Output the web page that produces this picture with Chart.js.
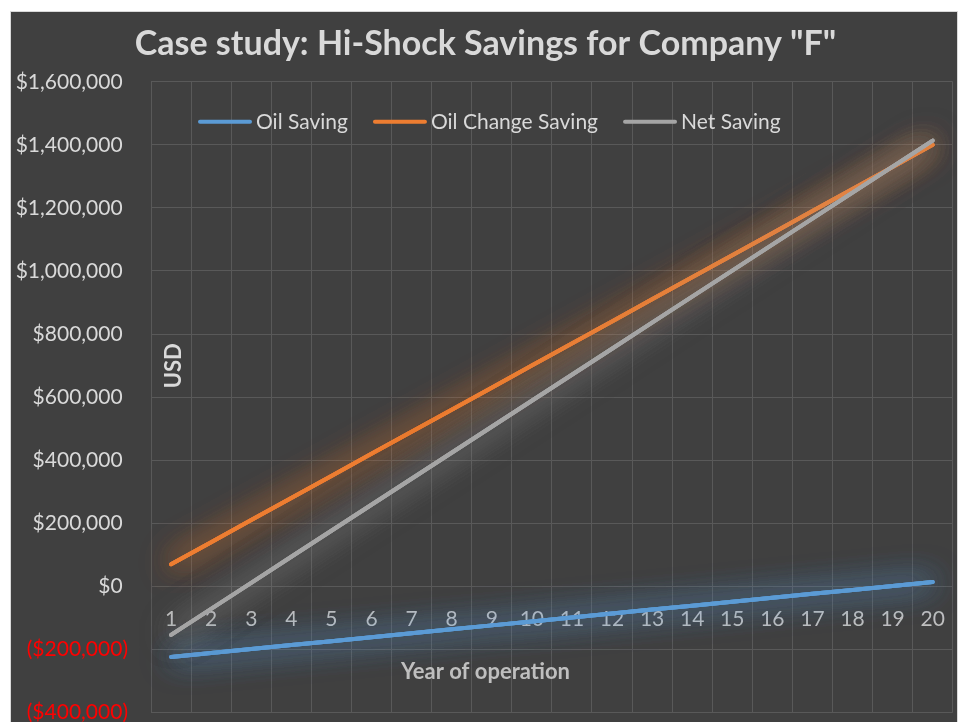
<!DOCTYPE html>
<html>
<head>
<meta charset="utf-8">
<script src="https://cdn.jsdelivr.net/npm/chart.js"></script>
<style>
  html, body { margin: 0; padding: 0; background: #fff; overflow: hidden; }
  #box { position: absolute; left: 10px; top: 11px; width: 946px; height: 720px; background: #404040; border: 1px solid #d9d9d9; border-bottom: none; overflow: hidden; }
  #box canvas { display: block; }
</style>
</head>
<body>
<div id="box"><canvas id="chart" width="954" height="736"></canvas></div>
<script>
const years = ['1','2','3','4','5','6','7','8','9','10','11','12','13','14','15','16','17','18','19','20'];
const oilSaving = [-224000, -211500, -199000, -186500, -174000, -161500, -149000, -136500, -124000, -111500,
                   -99000, -86500, -74000, -61500, -49000, -36500, -24000, -11500, 1000, 13500];
const oilChangeSaving = [70000, 140000, 210000, 280000, 350000, 420000, 490000, 560000, 630000, 700000,
                         770000, 840000, 910000, 980000, 1050000, 1120000, 1190000, 1260000, 1330000, 1400000];
const netSaving = [-154000, -71500, 11000, 93500, 176000, 258500, 341000, 423500, 506000, 588500,
                   671000, 753500, 836000, 918500, 1001000, 1083500, 1166000, 1248500, 1331000, 1413500];
const yTicks = { min: -400000, max: 1600000, step: 200000 };

const FONT = 'Lato';
const LIGHT = '#d9d9d9';
const GRID = '#595959';

// excel style: $1,000 / ($1,000), positives keep a trailing space where ")" would be
function money(v) {
    const s = '$' + Math.abs(v).toLocaleString('en-US');
    return v < 0 ? '(' + s + ')' : s + ' ';
}

// soft glow behind each line (line redrawn a few times with a blurred shadow)
const glow = {
    id: 'glow',
    beforeDatasetDraw(chart, args) {
        const ds = chart.data.datasets[args.index];
        chart.ctx.save();
        chart.ctx.shadowColor = ds.glowColor;
        chart.ctx.shadowBlur = 32;
    },
    afterDatasetDraw(chart, args) {
        args.meta.controller.draw();
        args.meta.controller.draw();
        chart.ctx.restore();
    }
};

// legend sits inside the plot, so do "USD" and the x title
const extras = {
    id: 'extras',
    afterDraw(chart) {
        const ctx = chart.ctx, area = chart.chartArea;
        ctx.save();
        ctx.font = '21px ' + FONT;
        ctx.textBaseline = 'middle';
        let x = area.left + 47;
        const y = area.top + 40;
        chart.data.datasets.forEach(ds => {
            ctx.strokeStyle = ds.borderColor;
            ctx.lineWidth = 4;
            ctx.lineCap = 'round';
            ctx.beginPath(); ctx.moveTo(x + 2, y); ctx.lineTo(x + 52, y); ctx.stroke();
            x += 58;
            ctx.fillStyle = LIGHT;
            ctx.fillText(ds.label, x, y);
            x += ctx.measureText(ds.label).width + 25;
        });

        ctx.textAlign = 'center';
        ctx.font = 'bold 22px ' + FONT;
        ctx.fillStyle = '#bfbfbf';
        ctx.fillText('Year of operation', (chart.width - 5) / 2, chart.scales.y.getPixelForValue(0) + 86);

        ctx.translate(area.left + 23, area.top + 284);
        ctx.rotate(-Math.PI / 2);
        ctx.fillStyle = LIGHT;
        ctx.fillText('USD', 0, 0);
        ctx.restore();
    }
};

new Chart(document.getElementById('chart'), {
    type: 'line',
    data: {
        labels: years,
        datasets: [
            { label: 'Oil Saving', data: oilSaving, borderColor: '#5b9bd5', glowColor: 'rgba(91,155,213,0.75)', order: 2 },
            { label: 'Oil Change Saving', data: oilChangeSaving, borderColor: '#ed7d31', glowColor: 'rgba(237,125,49,0.75)', order: 1 },
            { label: 'Net Saving', data: netSaving, borderColor: '#a5a5a5', glowColor: 'rgba(165,165,165,0.6)', order: 0 }
        ]
    },
    options: {
        responsive: false,
        animation: false,
        layout: { padding: { top: 0, right: 5, bottom: 0, left: 0 } },
        elements: {
            line: { borderWidth: 4, borderCapStyle: 'round', tension: 0 },
            point: { radius: 0 }
        },
        plugins: {
            legend: { display: false },
            tooltip: { enabled: false },
            title: {
                display: true,
                text: 'Case study: Hi-Shock Savings for Company "F"',
                color: LIGHT,
                font: { family: FONT, size: 34, weight: 'bold' },
                padding: { top: 12, bottom: 17 }
            }
        },
        scales: {
            x: {
                position: { y: 0 },
                offset: true,
                grid: { color: GRID, offset: true, drawTicks: false },
                border: { display: false },
                ticks: { color: '#bfbfbf', font: { family: FONT, size: 21 }, padding: 20, maxRotation: 0 }
            },
            y: {
                min: yTicks.min,
                max: yTicks.max,
                afterFit(scale) { scale.width = 140; },
                grid: { color: GRID, drawTicks: false },
                border: { display: false },
                ticks: {
                    stepSize: yTicks.step,
                    padding: 23,
                    font: { family: FONT, size: 21 },
                    color: c => c.tick.value < 0 ? '#ff0000' : LIGHT,
                    callback: v => money(v)
                }
            }
        }
    },
    plugins: [glow, extras]
});
</script>
</body>
</html>
